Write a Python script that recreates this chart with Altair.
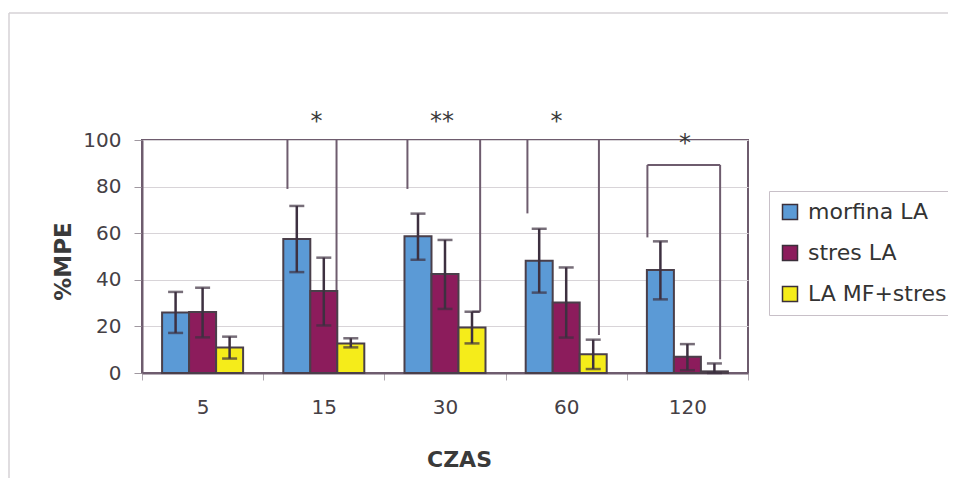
import altair as alt
import pandas as pd

czas = ["5", "15", "30", "60", "120"]
series = ["morfina LA", "stres LA", "LA MF+stres"]
colors = ["#5b9ad6", "#8c1c5c", "#f5ec1a"]

morfina = [26, 57.5, 58.7, 48.2, 44.2]
morfina_lo = [17.2, 43.3, 48.6, 34.5, 31.6]
morfina_hi = [34.8, 71.7, 68.4, 61.9, 56.5]

stres = [26.2, 35.2, 42.5, 30.3, 7.0]
stres_lo = [15.3, 20.4, 27.5, 15.2, 1.2]
stres_hi = [36.6, 49.5, 57.1, 45.3, 12.4]

mfstres = [10.9, 12.7, 19.5, 8.0, 0.7]
mfstres_lo = [6.2, 11.0, 12.7, 1.7, 0.0]
mfstres_hi = [15.6, 14.9, 26.3, 14.3, 4.1]

# significance annotations (x in category units: 0..5 across the plot)
seg_x = [1.20, 1.605, 2.19, 2.79, 2.725, 3.18, 3.77, 4.17, 4.17, 4.77]
seg_x2 = [1.20, 1.605, 2.19, 2.79, 2.79, 3.18, 3.77, 4.77, 4.17, 4.77]
seg_y = [100, 100, 100, 100, 26.3, 100, 100, 89.3, 89.3, 89.3]
seg_y2 = [79, 35, 79, 26.3, 26.3, 68.5, 16.3, 89.3, 58.2, 5.9]

star_x = [1.44, 2.475, 3.42, 4.48]
star_y = [110.5, 110.5, 110.5, 101.0]
star_text = ["*", "**", "*", "*"]

rows = []
for name, v, lo, hi in [
    (series[0], morfina, morfina_lo, morfina_hi),
    (series[1], stres, stres_lo, stres_hi),
    (series[2], mfstres, mfstres_lo, mfstres_hi),
]:
    for c, a, b, d in zip(czas, v, lo, hi):
        rows.append({"czas": c, "series": name, "value": a, "lo": b, "hi": d})
df = pd.DataFrame(rows)

seg_df = pd.DataFrame({"x": seg_x, "x2": seg_x2, "y": seg_y, "y2": seg_y2})
star_df = pd.DataFrame({"x": star_x, "y": star_y, "t": star_text})

FONT = "DejaVu Sans"
BORDER = "#6e5c6e"
DARK = "#3d3040"

xband = alt.X(
    "czas:N",
    sort=czas,
    scale=alt.Scale(paddingInner=0, paddingOuter=0),
    axis=alt.Axis(
        title="CZAS",
        labelAngle=0,
        labelFont=FONT,
        labelFontSize=20,
        labelColor="#454045",
        labelPadding=17,
        tickSize=7,
        tickColor="#b0a8b0",
        tickBand="extent",
        domainColor=BORDER,
        domainWidth=2,
        grid=False,
        titleFont=FONT,
        titleFontSize=22,
        titleFontWeight="bold",
        titleColor="#3a3a3a",
        titleX=317,
        titleY=93,
        titleBaseline="alphabetic",
        titleAlign="center",
    ),
)
xoff = alt.XOffset(
    "series:N",
    sort=series,
    scale=alt.Scale(paddingInner=0, paddingOuter=0.744),
)
yq = alt.Y(
    "value:Q",
    scale=alt.Scale(domain=[0, 100], nice=False),
    axis=alt.Axis(
        title="%MPE",
        values=[0, 20, 40, 60, 80, 100],
        labelFont=FONT,
        labelFontSize=20,
        labelColor="#454045",
        labelPadding=13,
        tickSize=8,
        tickColor="#a098a0",
        domainColor=BORDER,
        domainWidth=2,
        gridColor="#d8d4d8",
        gridWidth=1,
        titleFont=FONT,
        titleFontSize=23,
        titleFontWeight="bold",
        titleColor="#3a3a3a",
        titleX=-72,
        titleY=121,
        titleBaseline="alphabetic",
        titleAlign="center",
        titleAngle=270,
    ),
)
color = alt.Color(
    "series:N",
    sort=series,
    scale=alt.Scale(domain=series, range=colors),
    legend=alt.Legend(
        title=None,
        orient="none",
        legendX=627,
        legendY=51,
        labelFont=FONT,
        labelFontSize=22,
        labelColor="#333333",
        labelOffset=7,
        symbolType="square",
        symbolSize=225,
        symbolStrokeColor="#3a2f3a",
        symbolStrokeWidth=1.5,
        symbolOpacity=1,
        rowPadding=19,
        padding=10,
        strokeColor="#c8c0c8",
        fillColor="white",
    ),
)

base = alt.Chart(df)

bars = base.mark_bar(stroke="#4a3f4a", strokeWidth=2, opacity=1).encode(
    x=xband, xOffset=xoff, y=yq, color=color
)
err = base.mark_rule(color=DARK, strokeWidth=2.5).encode(
    x=xband, xOffset=xoff, y="lo:Q", y2="hi:Q"
)
cap_lo = base.mark_tick(color=DARK, thickness=2.5, size=15, orient="horizontal").encode(
    x=xband, xOffset=xoff, y="lo:Q"
)
cap_hi = base.mark_tick(color=DARK, thickness=2.5, size=15, orient="horizontal").encode(
    x=xband, xOffset=xoff, y="hi:Q"
)

ax = alt.Scale(domain=[0, 5], nice=False, zero=False)
segs = alt.Chart(seg_df).mark_rule(color=BORDER, strokeWidth=2).encode(
    x=alt.X("x:Q", scale=ax, axis=None),
    x2="x2:Q",
    y=alt.Y("y:Q", scale=alt.Scale(domain=[0, 100], nice=False)),
    y2="y2:Q",
)
stars = alt.Chart(star_df).mark_text(
    font=FONT, fontSize=24, color="#3a3a3a", baseline="middle", dy=6
).encode(
    x=alt.X("x:Q", scale=ax, axis=None),
    y=alt.Y("y:Q", scale=alt.Scale(domain=[0, 100], nice=False)),
    text="t:N",
)

# outer light frame of the chart area
frame = alt.Chart(pd.DataFrame({"k": [0]})).mark_rule(color="#d6d2d6", strokeWidth=1.5)
frame_top = frame.encode(x=alt.value(-133), x2=alt.value(820), y=alt.value(-127))
frame_left = frame.encode(x=alt.value(-133), y=alt.value(-127), y2=alt.value(360))

main = alt.layer(bars, err, cap_lo, cap_hi).resolve_scale(x="shared")
chart = (
    alt.layer(frame_top, frame_left, segs, main, stars)
    .resolve_scale(x="independent")
    .properties(
        width=606,
        height=233,
        autosize=alt.AutoSizeParams(type="none"),
        padding={"left": 134, "top": 132, "right": 200, "bottom": 105},
        background="white",
    )
    .configure_view(stroke=BORDER, strokeWidth=2)
)

chart.save("out.html", embed_options={"renderer": "svg", "actions": False})
